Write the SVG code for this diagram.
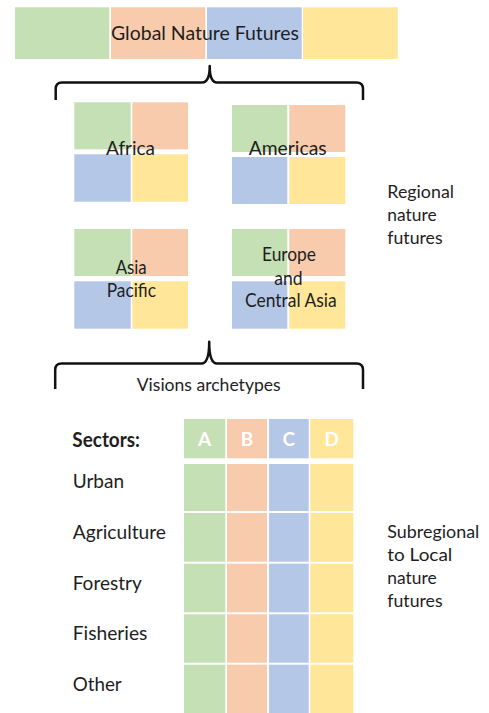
<svg xmlns="http://www.w3.org/2000/svg" width="489" height="713" viewBox="0 0 489 713">
  <style>
    .g { fill: #C5E0B4; }
    .o { fill: #F8CBAD; }
    .b { fill: #B4C7E7; }
    .y { fill: #FFE699; }
    text { font-family: Lato, "Open Sans", "Liberation Sans", sans-serif; fill: #1E1E1E; }
    .big { font-size: 20px; }
    .mid { font-size: 18px; }
    .bold { font-weight: bold; }
    .hdr { font-size: 19px; font-weight: bold; fill: #FFFFFF; text-anchor: middle; }
    .brace { fill: none; stroke: #111111; stroke-width: 2.5; stroke-linejoin: round; stroke-linecap: butt; }
  </style>

  <rect width="489" height="713" fill="#FFFFFF"/>

  <!-- Global level: four scenario colours in a row -->
  <g id="global">
    <rect class="g" x="15" y="7.3" width="94.3" height="51.7"/>
    <rect class="o" x="111" y="7.3" width="94.3" height="51.7"/>
    <rect class="b" x="207" y="7.3" width="94.7" height="51.7"/>
    <rect class="y" x="303" y="7.3" width="94.7" height="51.7"/>
    <text class="big" x="111" y="40" textLength="188" lengthAdjust="spacingAndGlyphs">Global Nature Futures</text>
  </g>

  <!-- Braces linking the levels -->
  <g id="connectors">
    <path class="brace" d="M55.7 100 V89 Q55.7 82.5 62 82.5 H202 Q209.7 82.5 209.7 66 Q209.7 82.5 217 82.5 H356.5 Q363 82.5 363 89 V100"/>
    <path class="brace" d="M55.2 389 V370 Q55.2 363.5 61.5 363.5 H201.5 Q209.2 363.5 209.2 341.7 Q209.2 363.5 217 363.5 H356.5 Q363 363.5 363 370 V389"/>
  </g>

  <!-- Regional futures: 2x2 grids -->
  <g id="africa">
    <rect class="g" x="74.3" y="102.3" width="56.4" height="47"/>
    <rect class="o" x="132.3" y="102.3" width="55.7" height="47"/>
    <rect class="b" x="74.3" y="154.3" width="56.4" height="47.4"/>
    <rect class="y" x="132.3" y="154.3" width="55.7" height="47.4"/>
    <text class="big" x="106" y="155" textLength="49" lengthAdjust="spacingAndGlyphs">Africa</text>
  </g>

  <g id="americas">
    <rect class="g" x="232" y="105" width="55.3" height="47"/>
    <rect class="o" x="289.3" y="105" width="56" height="47"/>
    <rect class="b" x="232" y="157" width="55.3" height="47"/>
    <rect class="y" x="289.3" y="157" width="56" height="47"/>
    <text class="big" x="248.7" y="154.5" textLength="78" lengthAdjust="spacingAndGlyphs">Americas</text>
  </g>

  <g id="asia-pacific">
    <rect class="g" x="74.3" y="229" width="56.4" height="47"/>
    <rect class="o" x="132.3" y="229" width="55.7" height="47"/>
    <rect class="b" x="74.3" y="281.3" width="56.4" height="47.4"/>
    <rect class="y" x="132.3" y="281.3" width="55.7" height="47.4"/>
    <text class="big" x="115.7" y="274" textLength="31" lengthAdjust="spacingAndGlyphs">Asia</text>
    <text class="big" x="106.7" y="297.3" textLength="49.3" lengthAdjust="spacingAndGlyphs">Pacific</text>
  </g>

  <g id="europe-central-asia">
    <rect class="g" x="232" y="229" width="55.3" height="47"/>
    <rect class="o" x="289.3" y="229" width="56" height="47"/>
    <rect class="b" x="232" y="281.3" width="55.3" height="47.4"/>
    <rect class="y" x="289.3" y="281.3" width="56" height="47.4"/>
    <text class="big" x="262" y="261.3" textLength="54" lengthAdjust="spacingAndGlyphs">Europe</text>
    <text class="big" x="274.3" y="284.7" textLength="28.3" lengthAdjust="spacingAndGlyphs">and</text>
    <text class="big" x="245" y="307.3" textLength="91.7" lengthAdjust="spacingAndGlyphs">Central Asia</text>
  </g>

  <g id="regional-label">
    <text class="mid" x="387.3" y="197.7" textLength="66.7" lengthAdjust="spacingAndGlyphs">Regional</text>
    <text class="mid" x="387.3" y="221" textLength="49.3" lengthAdjust="spacingAndGlyphs">nature</text>
    <text class="mid" x="387.3" y="244" textLength="55.3" lengthAdjust="spacingAndGlyphs">futures</text>
  </g>

  <g id="visions-label">
    <text class="mid" x="136.7" y="390.7" textLength="144" lengthAdjust="spacingAndGlyphs">Visions archetypes</text>
  </g>

  <!-- Sector table: archetype columns A-D -->
  <g id="sector-table">
    <g id="table-header">
      <rect class="g" x="184" y="419" width="41.3" height="39.3"/>
      <rect class="o" x="227" y="419" width="40" height="39.3"/>
      <rect class="b" x="269" y="419" width="39.7" height="39.3"/>
      <rect class="y" x="310.3" y="419" width="43" height="39.3"/>
      <text class="hdr" x="204.6" y="446">A</text>
      <text class="hdr" x="247" y="446">B</text>
      <text class="hdr" x="288.8" y="446">C</text>
      <text class="hdr" x="331.8" y="446">D</text>
      <text class="big bold" x="72.3" y="446.7" textLength="67.7" lengthAdjust="spacingAndGlyphs">Sectors:</text>
    </g>

    <g id="row-urban">
      <rect class="g" x="184" y="464" width="41.3" height="47"/>
      <rect class="o" x="227" y="464" width="40" height="47"/>
      <rect class="b" x="269" y="464" width="39.7" height="47"/>
      <rect class="y" x="310.3" y="464" width="43" height="47"/>
      <text class="big" x="72.7" y="488.3" textLength="51.3" lengthAdjust="spacingAndGlyphs">Urban</text>
    </g>

    <g id="row-agriculture">
      <rect class="g" x="184" y="513" width="41.3" height="48.7"/>
      <rect class="o" x="227" y="513" width="40" height="48.7"/>
      <rect class="b" x="269" y="513" width="39.7" height="48.7"/>
      <rect class="y" x="310.3" y="513" width="43" height="48.7"/>
      <text class="big" x="72.7" y="539.3" textLength="93.3" lengthAdjust="spacingAndGlyphs">Agriculture</text>
    </g>

    <g id="row-forestry">
      <rect class="g" x="184" y="563.7" width="41.3" height="48.6"/>
      <rect class="o" x="227" y="563.7" width="40" height="48.6"/>
      <rect class="b" x="269" y="563.7" width="39.7" height="48.6"/>
      <rect class="y" x="310.3" y="563.7" width="43" height="48.6"/>
      <text class="big" x="72.7" y="590" textLength="69" lengthAdjust="spacingAndGlyphs">Forestry</text>
    </g>

    <g id="row-fisheries">
      <rect class="g" x="184" y="614.3" width="41.3" height="48.4"/>
      <rect class="o" x="227" y="614.3" width="40" height="48.4"/>
      <rect class="b" x="269" y="614.3" width="39.7" height="48.4"/>
      <rect class="y" x="310.3" y="614.3" width="43" height="48.4"/>
      <text class="big" x="72.7" y="640" textLength="74.7" lengthAdjust="spacingAndGlyphs">Fisheries</text>
    </g>

    <g id="row-other">
      <rect class="g" x="184" y="664.7" width="41.3" height="48.3"/>
      <rect class="o" x="227" y="664.7" width="40" height="48.3"/>
      <rect class="b" x="269" y="664.7" width="39.7" height="48.3"/>
      <rect class="y" x="310.3" y="664.7" width="43" height="48.3"/>
      <text class="big" x="72.7" y="690.7" textLength="49" lengthAdjust="spacingAndGlyphs">Other</text>
    </g>
  </g>

  <g id="subregional-label">
    <text class="mid" x="387.3" y="537.7" textLength="92" lengthAdjust="spacingAndGlyphs">Subregional</text>
    <text class="mid" x="387.3" y="560.7" textLength="65" lengthAdjust="spacingAndGlyphs">to Local</text>
    <text class="mid" x="387.3" y="584" textLength="49.3" lengthAdjust="spacingAndGlyphs">nature</text>
    <text class="mid" x="387.3" y="607" textLength="55.3" lengthAdjust="spacingAndGlyphs">futures</text>
  </g>
</svg>
